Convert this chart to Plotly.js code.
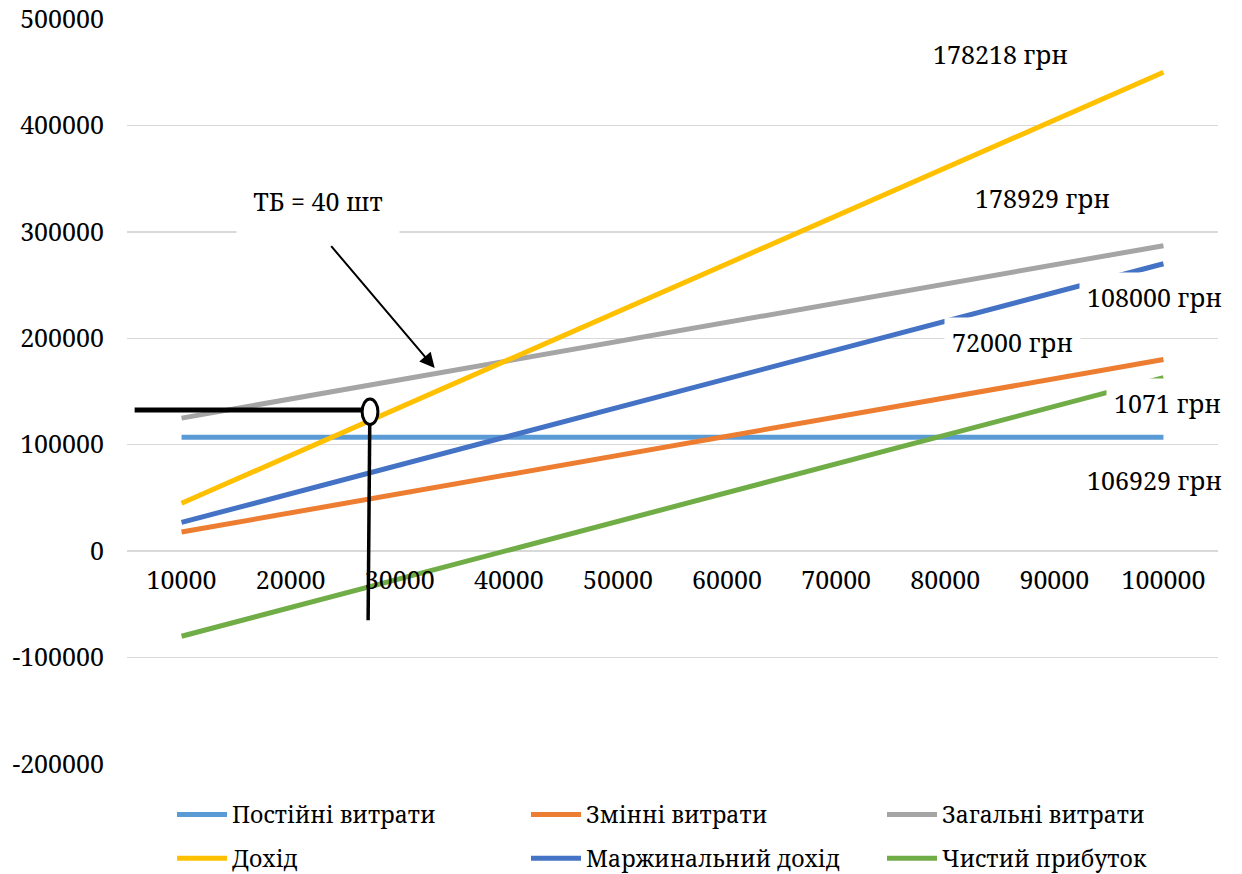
<!DOCTYPE html>
<html>
<head>
<meta charset="utf-8">
<script src="https://cdn.plot.ly/plotly-3.0.1.min.js"></script>
<style>html,body{margin:0;padding:0;background:#fff;}#chart{width:1242px;height:874px;}</style>
</head>
<body>
<div id="chart"></div>
<script>
const categories = ['10000','20000','30000','40000','50000','60000','70000','80000','90000','100000'];
const fixedCosts = [107000,107000,107000,107000,107000,107000,107000,107000,107000,107000];
const variableCosts = [18000,36000,54000,72000,90000,108000,126000,144000,162000,180000];
const totalCosts = [125000,143000,161000,179000,197000,215000,233000,251000,269000,287000];
const revenue = [45000,90000,135000,180000,225000,270000,315000,360000,405000,450000];
const marginalIncome = [27000,54000,81000,108000,135000,162000,189000,216000,243000,270000];
const netProfit = [-80000,-53000,-26000,1000,28000,55000,82000,109000,136000,163000];

const yTickVals = [-200000,-100000,0,100000,200000,300000,400000,500000];
const yTickText = ['-200000','-100000','0','100000','200000','300000','400000','500000'];

const seriesNames = ['Постійні витрати','Змінні витрати','Загальні витрати','Дохід','Маржинальний дохід','Чистий прибуток'];
const seriesValues = [fixedCosts, variableCosts, totalCosts, revenue, marginalIncome, netProfit];
const seriesColors = ['#5B9BD5','#ED7D31','#A5A5A5','#FFC000','#4472C4','#70AD47'];
const seriesLegend = ['legend','legend2','legend3','legend','legend2','legend3'];

const labelTexts = ['178218 грн','178929 грн','108000 грн','72000 грн','1071 грн','106929 грн'];
const labelX = [7.51, 7.89, 8.92, 7.62, 9.04, 8.92];
const labelY = [467500, 332000, 239000, 196600, 139000, 66800];

const xIdx = categories.map((c,i)=>i);
const FONT = "Noto Serif";

const traces = seriesNames.map((n,k)=>({
  type:'scatter', mode:'lines', name:n, x:xIdx, y:seriesValues[k],
  legend:seriesLegend[k], legendgroup:'g'+k,
  line:{color:seriesColors[k], width:5}
}));

const annotations = labelTexts.map((t,i)=>({
  xref:'x', yref:'y', x:labelX[i], y:labelY[i], text:t, showarrow:false,
  font:{family:FONT, size:25, color:'#000'}, bgcolor:'#fff', borderpad:7
}));
annotations.push({xref:'x', yref:'y', x:1.25, y:316000, text:'ТБ = 40 шт', showarrow:false,
  font:{family:FONT, size:25, color:'#000'}, bgcolor:'#fff', width:160, height:62, valign:'top'});
annotations.push({xref:'x', yref:'y', x:2.32, y:172000, axref:'x', ayref:'y', ax:1.36, ay:288000,
  text:'', showarrow:true, arrowhead:2, arrowsize:1.5, arrowwidth:2, arrowcolor:'#000'});

const shapes = [
  {type:'line', xref:'x', yref:'y', x0:-0.43, x1:1.66, y0:132600, y1:132600, line:{color:'#000', width:5}},
  {type:'line', xref:'x', yref:'y', x0:1.725, x1:1.71, y0:120000, y1:-64900, line:{color:'#000', width:3.5}},
  {type:'circle', xref:'x', yref:'y', x0:1.655, x1:1.80, y0:119000, y1:143000, fillcolor:'#fff', line:{color:'#000', width:3}}
];

function legendAt(xpx){
  return {xref:'container', yref:'container', x:xpx/1242, xanchor:'left', y:1-793/874, yanchor:'top',
    orientation:'v', tracegroupgap:11, itemwidth:50, bgcolor:'rgba(0,0,0,0)',
    font:{family:FONT, size:23, color:'#000'}};
}

const layout = {
  width:1242, height:874,
  margin:{l:127, r:24, t:19, b:110, autoexpand:false},
  paper_bgcolor:'#fff', plot_bgcolor:'#fff',
  font:{family:FONT, size:25, color:'#000'},
  showlegend:true,
  legend:legendAt(172), legend2:legendAt(526), legend3:legendAt(882),
  xaxis:{range:[-0.5,9.5], tickmode:'array', tickvals:xIdx, ticktext:categories,
    anchor:'free', position:2/7, showgrid:false, zeroline:false, showline:false, ticks:'',
    ticklabelstandoff:12, tickangle:0, automargin:false, tickfont:{family:FONT, size:25}},
  yaxis:{range:[-200000,500000], tickmode:'array', tickvals:yTickVals, ticktext:yTickText,
    showgrid:true, gridcolor:'#D9D9D9', gridwidth:1.5,
    zeroline:true, zerolinecolor:'#D9D9D9', zerolinewidth:1.5, showline:false, ticks:'', automargin:false,
    ticklabelstandoff:22, tickfont:{family:FONT, size:25}},
  annotations:annotations, shapes:shapes
};

Plotly.newPlot('chart', traces, layout, {staticPlot:true, displayModeBar:false});
</script>
</body>
</html>
